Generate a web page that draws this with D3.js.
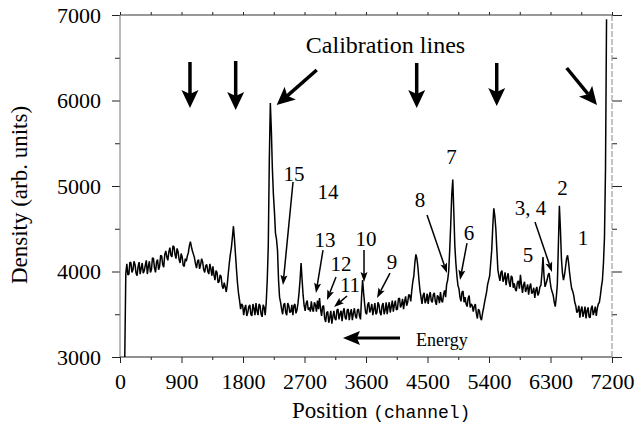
<!DOCTYPE html>
<html>
<head>
<meta charset="utf-8">
<script src="https://cdn.jsdelivr.net/npm/d3@7"></script>
<style>
  body { margin: 0; background: #fff; }
  text { font-family: "Liberation Serif", serif; fill: #000; }
</style>
</head>
<body>
<div id="chart"></div>
<script>
// spectrum: one reading every 30 channels from ch 70,
// and the in-between readings (ch 85, 115, ...)
const startChannel = 70;
const channelStep = 30;
const density = [
  3000, 4090, 3970, 4100, 4020, 4080, 3950, 4110, 4040, 3980,
  4070, 3970, 4120, 4020, 4150, 3990, 4140, 4060, 4180, 4050,
  4240, 4130, 4280, 4170, 4290, 4150, 4230, 4100, 4170, 4060,
  4120, 4220, 4350, 4240, 4160, 4040, 4140, 4080, 4110, 3990,
  4080, 3970, 4030, 4060, 3900, 3990, 3880, 3940, 3800, 3820,
  3850, 4100, 4280, 4530, 4200, 3860, 3660, 3620, 3490, 3610,
  3520, 3610, 3480, 3570, 3630, 3490, 3600, 3470, 3580, 3640,
  4300, 5970, 5200, 4700, 4380, 3900, 3640, 3500, 3630, 3490,
  3600, 3530, 3490, 3620, 3550, 3750, 4100, 3720, 3540, 3660,
  3580, 3650, 3530, 3610, 3660, 3690, 3480, 3600, 3410, 3530,
  3460, 3390, 3540, 3430, 3560, 3500, 3420, 3570, 3440, 3560,
  3510, 3430, 3570, 3450, 3560, 3440, 3900, 3620, 3500, 3640,
  3560, 3490, 3630, 3520, 3610, 3490, 3630, 3550, 3500, 3640,
  3590, 3530, 3660, 3560, 3690, 3610, 3560, 3710, 3640, 3720,
  3780, 3950, 4200, 4050, 3780, 3620, 3750, 3660, 3620, 3760,
  3640, 3750, 3610, 3700, 3760, 3640, 3780, 3850, 4000, 4550,
  5075, 4300, 3950, 3800, 3650, 3770, 3700, 3590, 3720, 3620,
  3530, 3620, 3450, 3540, 3430, 3570, 3700, 3850, 3950, 4250,
  4740, 4500, 4020, 3890, 4010, 3920, 3840, 3980, 3820, 3930,
  3860, 3770, 3890, 3960, 3750, 3880, 3800, 3730, 3860, 3760,
  3690, 3820, 3750, 3840, 4170, 3820, 3900, 3980, 3800, 3720,
  3590, 3850, 4770, 4150, 3900, 4050, 4190, 3980, 3800, 3720,
  3600, 3540, 3460, 3590, 3520, 3450, 3580, 3460, 3600, 3530,
  3480, 3620, 3720, 3900, 4400, 6950
];
const densityHalf = [
  3980, 3960, 4110, 3990, 4120, 3980, 4060, 3970, 4100, 4010,
  4130, 4060, 3990, 4160, 4040, 4110, 4020, 4190, 4080, 4200,
  4170, 4230, 4190, 4300, 4200, 4270, 4140, 4210, 4070, 4150,
  4180, 4300, 4290, 4200, 4090, 4120, 4030, 4150, 4020, 4070,
  4000, 4090, 3950, 3960, 4010, 3870, 3960, 3830, 3870, 3760,
  3980, 4200, 4400, 4380, 4020, 3740, 3560, 3600, 3570, 3480,
  3590, 3500, 3620, 3490, 3540, 3620, 3500, 3610, 3490, 3900,
  5300, 5650, 4900, 4450, 4250, 3700, 3560, 3610, 3520, 3630,
  3520, 3610, 3600, 3510, 3630, 3900, 3900, 3600, 3630, 3550,
  3530, 3560, 3640, 3530, 3560, 3560, 3590, 3450, 3520, 3400,
  3540, 3470, 3450, 3550, 3440, 3540, 3530, 3460, 3550, 3430,
  3560, 3510, 3480, 3550, 3480, 3700, 3750, 3520, 3610, 3520,
  3620, 3560, 3500, 3640, 3520, 3600, 3500, 3640, 3590, 3520,
  3660, 3610, 3550, 3680, 3580, 3680, 3650, 3600, 3730, 3650,
  3880, 4100, 4150, 3900, 3700, 3720, 3630, 3740, 3710, 3660,
  3730, 3650, 3720, 3630, 3660, 3730, 3700, 3900, 4250, 4900,
  4700, 4100, 3840, 3700, 3760, 3640, 3620, 3690, 3580, 3600,
  3590, 3510, 3560, 3460, 3510, 3640, 3760, 3900, 4100, 4520,
  4650, 4250, 3950, 3990, 3880, 3990, 3930, 3870, 3950, 3810,
  3790, 3870, 3800, 3850, 3840, 3760, 3850, 3820, 3740, 3810,
  3780, 3720, 3820, 3980, 3950, 3860, 3960, 3880, 3760, 3640,
  3700, 4300, 4500, 3980, 3960, 4150, 4100, 3880, 3770, 3640,
  3520, 3600, 3550, 3470, 3590, 3540, 3470, 3570, 3490, 3590,
  3570, 3640, 3820, 4100, 5200
];

const xTicks = [0, 900, 1800, 2700, 3600, 4500, 5400, 6300, 7200];
const xMinor = [450, 1350, 2250, 3150, 4050, 4950, 5850, 6750];
const yTicks = [3000, 4000, 5000, 6000, 7000];
const yMinor = [3500, 4500, 5500, 6500];

// peak numbers, placed in data units [label, channel, density]
const peakLabels = [
  ["15", 2546, 5146], ["14", 3044, 4930], ["13", 3000, 4368],
  ["12", 3234, 4088], ["11", 3366, 3842], ["10", 3600, 4380],
  ["9", 3980, 4111], ["8", 4390, 4836], ["7", 4851, 5339],
  ["6", 5107, 4450], ["5", 5971, 4193], ["3, 4", 6007, 4743],
  ["2", 6476, 4982], ["1", 6776, 4392]
];
// thin pointers from label to peak: [ch1, d1, ch2, d2]
const labelArrows = [
  [2532, 5047, 2385, 3842], [2971, 4251, 2868, 3749],
  [3161, 3936, 3029, 3667], [3322, 3713, 3132, 3585],
  [3571, 4251, 3571, 3877], [3951, 3982, 3761, 3690],
  [4493, 4661, 4785, 3982], [5078, 4333, 4976, 3901],
  [6073, 4579, 6322, 3994]
];
// calibration line arrows
const calibArrows = [
  [1024, 6450, 1024, 5912], [1693, 6462, 1693, 5889],
  [2879, 6357, 2293, 5947], [4342, 6439, 4342, 5912],
  [5513, 6439, 5513, 5936], [6537, 6380, 6980, 5947]
];

const W = 638, H = 434;
const plotL = 120, plotR = 612, plotT = 15, plotB = 357;

const x = d3.scaleLinear().domain([0, 7200]).range([plotL, plotR]);
const y = d3.scaleLinear().domain([3000, 7000]).range([plotB, plotT]);

const svg = d3.select('#chart')
  .append('svg')
  .attr('width', W)
  .attr('height', H)
  .style('background-color', '#fff');

// axes (ticks only, frame drawn separately)
function ticks(axis, values, size) {
  return axis.tickValues(values).tickSize(size).tickFormat('');
}

svg.append('g').attr('transform', `translate(0,${plotB})`)
  .call(ticks(d3.axisBottom(x), xMinor, 3));
const xAx = svg.append('g').attr('transform', `translate(0,${plotB})`)
  .call(d3.axisBottom(x).tickValues(xTicks).tickSize(6).tickPadding(10).tickFormat(d3.format('d')));
xAx.selectAll('text').style('font-size', '22px');

svg.append('g').attr('transform', `translate(0,${plotT})`)
  .call(ticks(d3.axisTop(x), xTicks.concat(xMinor), 3));

svg.append('g').attr('transform', `translate(${plotL},0)`)
  .call(ticks(d3.axisLeft(y), yMinor, 5));
const yAx = svg.append('g').attr('transform', `translate(${plotL},0)`)
  .call(d3.axisLeft(y).tickValues(yTicks).tickSize(8).tickPadding(11).tickFormat(d3.format('d')));
yAx.selectAll('text').style('font-size', '22px');

svg.append('g').attr('transform', `translate(${plotR},0)`)
  .call(ticks(d3.axisRight(y), yMinor, 5));
svg.append('g').attr('transform', `translate(${plotR},0)`)
  .call(ticks(d3.axisRight(y), yTicks, 10));

svg.selectAll('.domain').remove();
svg.selectAll('.tick line').attr('stroke', '#222');
svg.selectAll('.tick text').attr('fill', '#000').attr('font-family', '"Liberation Serif", serif');

// frame
svg.append('line').attr('x1', plotL).attr('x2', plotR).attr('y1', plotT).attr('y2', plotT).attr('stroke', '#333');
svg.append('line').attr('x1', plotL).attr('x2', plotR).attr('y1', plotB).attr('y2', plotB).attr('stroke', '#222');
svg.append('line').attr('x1', plotL).attr('x2', plotL).attr('y1', plotT).attr('y2', plotB).attr('stroke', '#777');
svg.append('line').attr('x1', plotR).attr('x2', plotR).attr('y1', plotT).attr('y2', plotB)
  .attr('stroke', '#888').attr('stroke-dasharray', '6,2');

// merge the two sets of readings in channel order
const trace = [];
density.forEach((d, i) => {
  const ch = startChannel + i * channelStep;
  trace.push([ch, d]);
  if (i < densityHalf.length) trace.push([ch + channelStep / 2, densityHalf[i]]);
});

const line = d3.line()
  .x((d) => x(d[0]))
  .y((d) => y(d[1]));

svg.append('path')
  .datum(trace)
  .attr('d', line)
  .attr('fill', 'none')
  .attr('stroke', '#000')
  .attr('stroke-width', 1.5)
  .attr('stroke-linejoin', 'bevel');

// arrow with a barbed head, pixel coords
function arrow(x1, y1, x2, y2, head, half, notch, shaft) {
  const dx = x2 - x1, dy = y2 - y1, len = Math.hypot(dx, dy);
  const ux = dx / len, uy = dy / len, px = -uy, py = ux;
  const bx = x2 - ux * head, by = y2 - uy * head;
  const nx = x2 - ux * (head - notch), ny = y2 - uy * (head - notch);
  svg.append('line')
    .attr('x1', x1).attr('y1', y1).attr('x2', nx).attr('y2', ny)
    .attr('stroke', '#000').attr('stroke-width', shaft);
  const pts = [[x2, y2], [bx + px * half, by + py * half], [nx, ny], [bx - px * half, by - py * half]];
  svg.append('path').attr('d', 'M' + pts.join('L') + 'Z').attr('fill', '#000');
}

calibArrows.forEach((a) => arrow(x(a[0]), y(a[1]), x(a[2]), y(a[3]), 18, 8.5, 4, 3.5));
labelArrows.forEach((a) => arrow(x(a[0]), y(a[1]), x(a[2]), y(a[3]), 10, 3.5, 2, 1.5));
arrow(x(4098), y(3222), x(3263), y(3222), 17, 7, 3, 3);

svg.selectAll('.peak')
  .data(peakLabels)
  .enter()
  .append('text')
  .attr('class', 'peak')
  .attr('x', (d) => x(d[1]))
  .attr('y', (d) => y(d[2]))
  .attr('dy', '0.35em')
  .attr('text-anchor', 'middle')
  .style('font-size', '21px')
  .text((d) => d[0]);

svg.append('text')
  .attr('x', x(3885)).attr('y', y(6649)).attr('dy', '0.35em')
  .attr('text-anchor', 'middle')
  .style('font-size', '24px')
  .text('Calibration lines');

svg.append('text')
  .attr('x', x(4332)).attr('y', y(3199)).attr('dy', '0.35em')
  .style('font-size', '18px')
  .text('Energy');

// axis titles
const xt = svg.append('text')
  .attr('x', 292).attr('y', 418)
  .style('font-size', '23px');
xt.append('tspan').text('Position ');
xt.append('tspan')
  .style('font-family', '"Liberation Mono", monospace')
  .style('font-size', '18px')
  .text('(channel)');

svg.append('text')
  .attr('transform', 'translate(19,195) rotate(-90)')
  .attr('text-anchor', 'middle')
  .attr('dy', '0.35em')
  .style('font-size', '23px')
  .text('Density (arb. units)');
</script>
</body>
</html>
